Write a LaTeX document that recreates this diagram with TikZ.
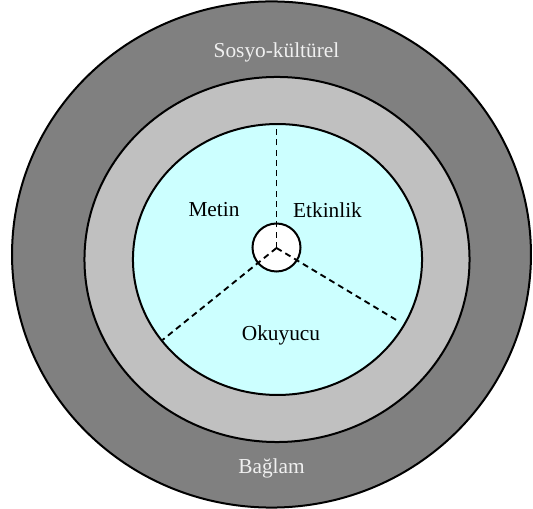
\documentclass[tikz,border=0pt]{standalone}
\usepackage{fontspec}
\setmainfont{Liberation Serif}
\definecolor{outergray}{RGB}{128,128,128}
\definecolor{midgray}{RGB}{192,192,192}
\definecolor{innercyan}{RGB}{204,255,255}
\definecolor{lighttext}{RGB}{240,240,240}
\tikzset{
  ring/.style={draw=black, line width=1.5pt},
  divider/.style={draw=black, line width=1.4pt, dash pattern=on 4.5pt off 3.2pt},
  lab/.style={font=\fontsize{16}{18}\selectfont, inner sep=0pt},
}
\begin{document}
\begin{tikzpicture}[x=0.75pt, y=-0.75pt]
\useasboundingbox (0,0) rectangle (533,509);
\path[ring, fill=outergray] (271.5,254.5) ellipse [x radius=194.6pt, y radius=189.8pt];
\path[ring, fill=midgray] (277,259.5) ellipse [x radius=144.4pt, y radius=136.9pt];
\path[ring, fill=innercyan] (277.5,259.5) ellipse [x radius=108.4pt, y radius=101.6pt];
\path[ring, fill=white] (276.5,247.5) circle [radius=18pt];
\coordinate (c) at (276.5,248);
\coordinate (top) at (276.5,124);
\coordinate (left) at (162.5,340);
\coordinate (right) at (398,321);
\draw[divider] (c) -- (top);
\draw[divider] (c) -- (left);
\draw[divider] (c) -- (right);
\node[lab, text=lighttext] (sosyo) at (276.5,52) {Sosyo-kültürel};
\node[lab, text=lighttext] (baglam) at (271.5,468) {Bağlam};
\node[lab] (metin) at (214,210) {Metin};
\node[lab] (etkinlik) at (327.5,210) {Etkinlik};
\node[lab] (okuyucu) at (281,335) {Okuyucu};
\end{tikzpicture}
\end{document}
